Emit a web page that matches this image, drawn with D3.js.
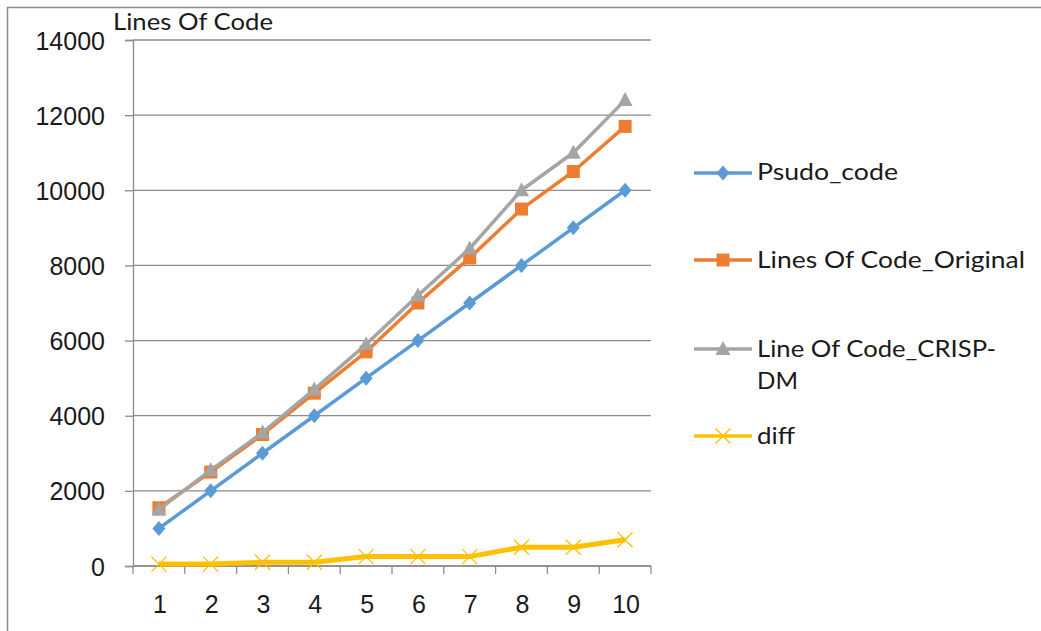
<!DOCTYPE html>
<html>
<head>
<meta charset="utf-8">
<script src="https://cdn.jsdelivr.net/npm/d3@7"></script>
<style>
  html, body { margin: 0; padding: 0; background: #fff; }
  svg { display: block; }
</style>
</head>
<body>
<script>
const categories = ["1","2","3","4","5","6","7","8","9","10"];
const seriesNames = ["Psudo_code", "Lines Of Code_Original", "Line Of Code_CRISP-DM", "diff"];
const psudoCode = [1000, 2000, 3000, 4000, 5000, 6000, 7000, 8000, 9000, 10000];
const locOriginal = [1550, 2500, 3500, 4600, 5700, 7000, 8200, 9500, 10500, 11700];
const locCrisp = [1500, 2550, 3550, 4700, 5900, 7200, 8450, 10000, 11000, 12400];
const diff = [50, 50, 100, 100, 250, 250, 250, 500, 500, 700];
const yTicks = [0, 2000, 4000, 6000, 8000, 10000, 12000, 14000];
const yTitle = "Lines Of Code";

(function () {
const W = 1041, H = 631;
const svg = d3.select("body").append("svg").attr("width", W).attr("height", H);

// outer frame
svg.append("path").attr("d", `M7.5,${H} V7.5 H${W}`).attr("fill", "none").attr("stroke", "#8c8c8c").attr("stroke-width", 1.5);

const mLeft = 133, mRight = 651, mTop = 40, mBottom = 566;
const x = d3.scaleBand().domain(categories).range([mLeft, mRight]);
const y = d3.scaleLinear().domain([0, 14000]).range([mBottom, mTop]);

const gridColor = "#8c8c8c";
const textFont = "Lato, 'Open Sans', sans-serif";

// gridlines
svg.append("g").selectAll("line").data(yTicks).join("line")
  .attr("x1", mLeft).attr("x2", mRight)
  .attr("y1", d => y(d)).attr("y2", d => y(d))
  .attr("stroke", gridColor).attr("stroke-width", 1.3);

// y axis
const yAxis = d3.axisLeft(y).tickValues(yTicks).tickSize(8).tickPadding(20).tickFormat(d3.format("d"));
const gy = svg.append("g").attr("transform", `translate(${mLeft},0)`).call(yAxis);
gy.select(".domain").attr("stroke", gridColor).attr("stroke-width", 1.3);
gy.selectAll(".tick line").attr("stroke", gridColor).attr("stroke-width", 1.3);
gy.selectAll(".tick text").attr("font-family", "Liberation Sans, Arial, sans-serif").attr("font-size", 25).attr("fill", "#1a1a1a").attr("dy", "0.36em");

// x axis
const gx = svg.append("g").attr("transform", `translate(0,${mBottom})`);
gx.append("line").attr("x1", mLeft).attr("x2", mRight).attr("y1", 0).attr("y2", 0).attr("stroke", gridColor).attr("stroke-width", 1.3);
const edges = categories.map(c => x(c)).concat([mRight]);
gx.selectAll("line.t").data(edges).join("line").attr("class", "t")
  .attr("x1", d => d).attr("x2", d => d).attr("y1", 0).attr("y2", 8)
  .attr("stroke", gridColor).attr("stroke-width", 1.3);
gx.selectAll("text").data(categories).join("text")
  .attr("x", d => x(d) + x.bandwidth() / 2 + 1)
  .attr("y", 47)
  .attr("text-anchor", "middle")
  .attr("font-family", "Liberation Sans, Arial, sans-serif").attr("font-size", 25).attr("fill", "#1a1a1a")
  .text(d => d);

// y title
svg.append("text").attr("x", 113).attr("y", 30)
  .attr("font-family", textFont).attr("font-size", 24).attr("fill", "#1a1a1a")
  .attr("textLength", 160).attr("lengthAdjust", "spacingAndGlyphs")
  .text(yTitle);

const colors = ["#5B9BD5", "#ED7D31", "#A5A5A5", "#FFC000"];
const widths = [3.5, 3.5, 3.5, 5];
const symbols = ["diamond", "square", "triangle", "x"];
const allSeries = [psudoCode, locOriginal, locCrisp, diff];

const cx = c => x(c) + x.bandwidth() / 2;

function drawMarker(g, type, color, px, py) {
  if (type === "diamond") {
    g.append("path").attr("d", `M${px},${py-7.5} L${px+6.5},${py} L${px},${py+7.5} L${px-6.5},${py} Z`).attr("fill", color);
  } else if (type === "square") {
    g.append("rect").attr("x", px - 6.5).attr("y", py - 6.5).attr("width", 13).attr("height", 13).attr("fill", color);
  } else if (type === "triangle") {
    g.append("path").attr("d", `M${px},${py-8} L${px+7.5},${py+6} L${px-7.5},${py+6} Z`).attr("fill", color);
  } else {
    g.append("path").attr("d", `M${px-7.5},${py-7.5} L${px+7.5},${py+7.5} M${px-7.5},${py+7.5} L${px+7.5},${py-7.5}`)
      .attr("stroke", color).attr("stroke-width", 1.3).attr("fill", "none");
  }
}

const line = d3.line().x((d, i) => cx(categories[i])).y(d => y(d));

allSeries.forEach((vals, si) => {
  const g = svg.append("g");
  g.append("path").datum(vals).attr("d", line)
    .attr("fill", "none").attr("stroke", colors[si]).attr("stroke-width", widths[si]).attr("stroke-linejoin", "round");
  vals.forEach((v, i) => drawMarker(g, symbols[si], colors[si], cx(categories[i]), y(v)));
});

// legend
const legendRows = [
  { lines: [seriesNames[0]], len: [141], ly: 173, ty: 180 },
  { lines: [seriesNames[1]], len: [268], ly: 260, ty: 268 },
  { lines: ["Line Of Code_CRISP-", "DM"], len: [239, 41], ly: 349, ty: 357 },
  { lines: [seriesNames[3]], len: [38], ly: 436, ty: 444 }
];
legendRows.forEach((r, si) => {
  const g = svg.append("g");
  g.append("line").attr("x1", 694).attr("x2", 752).attr("y1", r.ly).attr("y2", r.ly)
    .attr("stroke", colors[si]).attr("stroke-width", 3.5);
  drawMarker(g, symbols[si], colors[si], 723, r.ly);
  r.lines.forEach((t, k) => {
    g.append("text").attr("x", 757).attr("y", r.ty + k * 32)
      .attr("font-family", textFont).attr("font-size", 24).attr("fill", "#1a1a1a")
      .attr("textLength", r.len[k]).attr("lengthAdjust", "spacingAndGlyphs")
      .text(t);
  });
});
})();
</script>
</body>
</html>
